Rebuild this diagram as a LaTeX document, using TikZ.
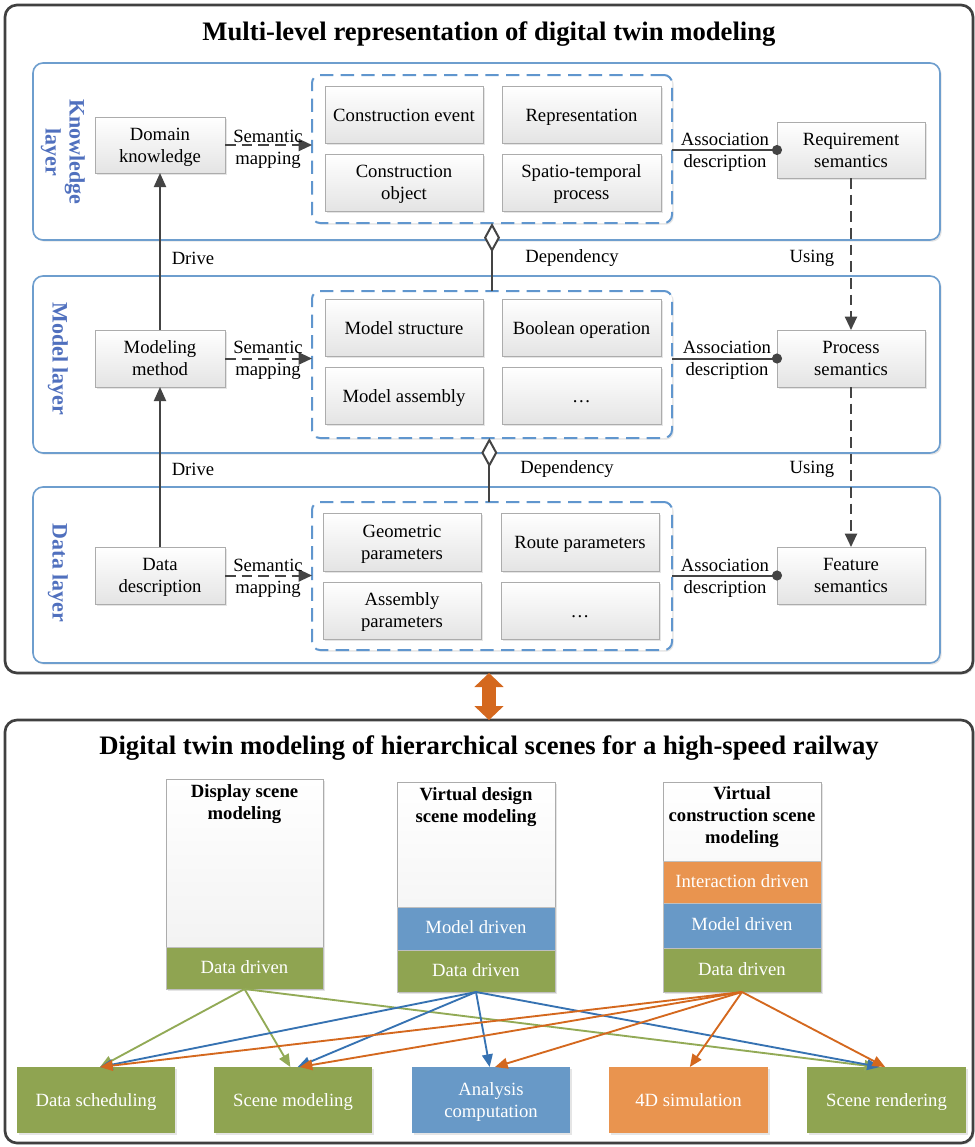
\documentclass[tikz,border=0pt]{standalone}
\usepackage{fontspec}
\setmainfont{Liberation Serif}
\usetikzlibrary{arrows.meta,shadows}

\definecolor{framegray}{RGB}{64,64,64}
\definecolor{linegray}{RGB}{68,68,68}
\definecolor{boxedge}{RGB}{172,172,172}
\definecolor{boxlow}{RGB}{228,228,228}
\definecolor{layeredge}{RGB}{110,158,206}
\definecolor{layertext}{RGB}{80,112,190}
\definecolor{groupedge}{RGB}{96,150,206}
\definecolor{greenfill}{RGB}{143,164,81}
\definecolor{bluefill}{RGB}{104,153,199}
\definecolor{orangefill}{RGB}{233,148,79}
\definecolor{greenline}{RGB}{146,170,86}
\definecolor{blueline}{RGB}{54,114,178}
\definecolor{orangeline}{RGB}{212,104,30}

\begin{document}
\begin{tikzpicture}[x=0.75pt,y=-0.75pt,
  every node/.style={font=\fontsize{14}{16.5}\selectfont, align=center},
  % place a rectangular node by its corners (x1,y1)-(x2,y2), given in pixels
  rectat/.style n args={4}{at={({(#1+#3)/2},{(#2+#4)/2})},
      minimum width={(#3-#1)*0.75pt}, minimum height={(#4-#2)*0.75pt}, inner sep=0pt, outer sep=0pt},
  % vertical placement of one- and two-line box texts
  oneline/.style={text height=12.8pt, text depth=3pt},
  twoline/.style={text height=28.5pt, text depth=3pt},
  softshadow/.style={drop shadow={shadow xshift=1.3pt, shadow yshift=-1.3pt, opacity=0.22, fill=black!45}},
  frame/.style={draw=framegray, line width=2pt, rounded corners=9pt, fill=white, softshadow},
  layerbox/.style={draw=layeredge, line width=1.2pt, rounded corners=7.5pt, fill=white, softshadow},
  groupbox/.style={draw=groupedge, line width=1.5pt, dash pattern=on 10pt off 5.5pt, rounded corners=6pt, fill=white, softshadow},
  gbox/.style={draw=boxedge, line width=0.7pt, top color=white, bottom color=boxlow, softshadow},
  layerlabel/.style={rotate=-90, text=layertext, font=\fontsize{16.5}{18}\selectfont\bfseries},
  titletext/.style={font=\fontsize{20}{24}\selectfont\bfseries},
  lbl/.style={inner sep=0pt},
  solidarrow/.style={draw=linegray, line width=1.5pt, -{Triangle[length=10.5pt,width=9pt]}},
  dasharrow/.style={draw=linegray, line width=1.5pt, dash pattern=on 8pt off 4.5pt, -{Triangle[length=10pt,width=9pt]}},
  assoc/.style={draw=linegray, line width=1.5pt, -{Circle[length=7.5pt]}, shorten >=-3.75pt},
  depend/.style={draw=linegray, line width=1.5pt, -{Diamond[open, length=22pt, width=12pt, fill=white]}},
  colbox/.style={draw=boxedge, line width=0.7pt, top color=white, bottom color=black!6, softshadow},
  coltitle/.style={font=\fontsize{14}{16.5}\selectfont\bfseries, inner sep=0pt},
  strip/.style={draw=white!75!black, line width=0.6pt, text=white, text height=10.5pt, text depth=3pt},
  target/.style={text=white, softshadow},
  gconn/.style={draw=greenline, line width=1.4pt, -{Triangle[length=9.5pt,width=8pt]}},
  bconn/.style={draw=blueline, line width=1.4pt, -{Triangle[length=9.5pt,width=8pt]}},
  oconn/.style={draw=orangeline, line width=1.4pt, -{Triangle[length=9.5pt,width=8pt]}}
]
\useasboundingbox (0,0) rectangle (975,1147);

% ---------- upper panel: multi-level representation ----------
\node[frame, rectat={5}{5}{973}{673}] (topframe) {};
\node[titletext] (title1) at (489,34) {Multi-level representation of digital twin modeling};

\node[layerbox, rectat={33}{63}{940}{240}] (klayer) {};
\node[layerbox, rectat={33}{276}{940}{453}] (mlayer) {};
\node[layerbox, rectat={33}{487}{940}{663}] (dlayer) {};

\node[layerlabel] (klabel) at (63,152) {Knowledge\\layer};
\node[layerlabel] (mlabel) at (58,359) {Model layer};
\node[layerlabel] (dlabel) at (58,573) {Data layer};

% left column
\node[gbox, twoline, rectat={95}{117}{225}{173}] (dk) {Domain\\knowledge};
\node[gbox, twoline, rectat={95}{330}{225}{387}] (mm) {Modeling\\method};
\node[gbox, twoline, rectat={95}{547}{225}{604}] (dd) {Data\\description};

% dashed groups
\node[groupbox, rectat={312}{75}{672}{223}] (kg) {};
\node[groupbox, rectat={312}{291}{672}{438}] (mg) {};
\node[groupbox, rectat={312}{502}{672}{650}] (dg) {};

\node[gbox, oneline, rectat={325}{86}{483}{143}] (ce) {Construction event};
\node[gbox, oneline, rectat={502}{86}{661}{143}] (rep) {Representation};
\node[gbox, twoline, rectat={325}{154}{483}{211}] (co) {Construction\\object};
\node[gbox, twoline, rectat={502}{154}{661}{211}] (stp) {Spatio-temporal\\process};

\node[gbox, oneline, rectat={325}{299}{483}{356}] (mst) {Model structure};
\node[gbox, oneline, rectat={502}{299}{661}{356}] (bo) {Boolean operation};
\node[gbox, oneline, rectat={325}{367}{483}{424}] (mas) {Model assembly};
\node[gbox, oneline, rectat={502}{367}{661}{424}] (mdots) {\ldots};

\node[gbox, twoline, rectat={323}{513}{481}{571}] (gp) {Geometric\\parameters};
\node[gbox, oneline, rectat={501}{513}{659}{571}] (rp) {Route parameters};
\node[gbox, twoline, rectat={323}{582}{481}{639}] (ap) {Assembly\\parameters};
\node[gbox, oneline, rectat={501}{582}{659}{639}] (ddots) {\ldots};

% right column
\node[gbox, twoline, rectat={777}{122}{925}{178}] (rs) {Requirement\\semantics};
\node[gbox, twoline, rectat={777}{330}{925}{387}] (ps) {Process\\semantics};
\node[gbox, twoline, rectat={777}{547}{925}{604}] (fs) {Feature\\semantics};

% semantic mapping
\draw[dasharrow] (dk.east) -- (dk.east -| kg.west);
\draw[dasharrow] (mm.east) -- (mm.east -| mg.west);
\draw[dasharrow] (dd.east) -- (dd.east -| dg.west);
\node[lbl] (sm1) at (268,149) {Semantic\\mapping};
\node[lbl] (sm2) at (268,360) {Semantic\\mapping};
\node[lbl] (sm3) at (268,578) {Semantic\\mapping};

% association description
\draw[assoc] (rs.west -| kg.east) -- (rs.west);
\draw[assoc] (ps.west -| mg.east) -- (ps.west);
\draw[assoc] (fs.west -| dg.east) -- (fs.west);
\node[lbl] (ad1) at (725,152) {Association\\description};
\node[lbl] (ad2) at (727,360) {Association\\description};
\node[lbl] (ad3) at (725,578) {Association\\description};

% drive
\draw[solidarrow] (mm.north) -- (dk.south);
\draw[solidarrow] (dd.north) -- (mm.south);
\node[lbl] (dr1) at (193,258) {Drive};
\node[lbl] (dr2) at (193,469) {Drive};

% dependency
\draw[depend] (mg.north) -- (kg.south);
\draw[depend] ([xshift=-2pt]dg.north) -- ([xshift=-2pt]mg.south);
\node[lbl] (dep1) at (572,258) {Dependency};
\node[lbl] (dep2) at (567,469) {Dependency};

% using
\draw[dasharrow] (rs.south) -- (ps.north);
\draw[dasharrow] (ps.south) -- (fs.north);
\node[lbl] (us1) at (812,258) {Using};
\node[lbl] (us2) at (812,469) {Using};

% ---------- lower panel: hierarchical scenes ----------
\node[frame, rectat={5}{720}{973}{1143}] (botframe) {};
\draw[orangeline, line width=10.5pt,
  {Triangle[length=10.5pt,width=22pt,line width=0pt]}-{Triangle[length=10.5pt,width=22pt,line width=0pt]}]
  (topframe.south) -- (botframe.north);
\node[titletext] (title2) at (489,748) {Digital twin modeling of hierarchical scenes for a high-speed railway};

% scene columns
\node[colbox, rectat={166}{779}{323}{989}] (c1) {};
\node[coltitle] (c1t) at (244.5,804) {Display scene\\modeling};
\node[strip, fill=greenfill, rectat={166}{947}{323}{989}] (c1d) {Data driven};

\node[colbox, rectat={397}{782}{555}{992}] (c2) {};
\node[coltitle] (c2t) at (476,807.5) {Virtual design\\scene modeling};
\node[strip, fill=bluefill, rectat={397}{907}{555}{950}] (c2m) {Model driven};
\node[strip, fill=greenfill, rectat={397}{950}{555}{992}] (c2d) {Data driven};

\node[colbox, rectat={663}{782}{821}{992}] (c3) {};
\node[coltitle] (c3t) at (742,817) {Virtual\\construction scene\\modeling};
\node[strip, fill=orangefill, rectat={663}{861}{821}{903}] (c3i) {Interaction driven};
\node[strip, fill=bluefill, rectat={663}{903}{821}{948}] (c3m) {Model driven};
\node[strip, fill=greenfill, rectat={663}{948}{821}{992}] (c3d) {Data driven};

% functional targets
\node[target, oneline, fill=greenfill, rectat={17}{1067}{175}{1133}] (ds) {Data scheduling};
\node[target, oneline, fill=greenfill, rectat={214}{1067}{372}{1133}] (smo) {Scene modeling};
\node[target, twoline, fill=bluefill, rectat={412}{1067}{570}{1133}] (ac) {Analysis\\computation};
\node[target, oneline, fill=orangefill, rectat={609}{1067}{768}{1133}] (sim) {4D simulation};
\node[target, oneline, fill=greenfill, rectat={807}{1067}{966}{1133}] (sr) {Scene rendering};

% data-driven links
\draw[gconn] (c1d.south) -- ([xshift=3pt]ds.north);
\draw[gconn] (c1d.south) -- ([xshift=-2pt]smo.north);
\draw[gconn] (c1d.south) -- ([xshift=-7pt]sr.north);

% model-driven links
\draw[bconn] (c2d.south) -- ([xshift=3pt]ds.north);
\draw[bconn] (c2d.south) -- ([xshift=3.5pt]smo.north);
\draw[bconn] (c2d.south) -- ([xshift=-1pt]ac.north);
\draw[bconn] (c2d.south) -- ([xshift=-5pt]sr.north);

% interaction-driven links
\draw[oconn] (c3d.south) -- ([xshift=3pt]ds.north);
\draw[oconn] (c3d.south) -- ([xshift=5pt]smo.north);
\draw[oconn] (c3d.south) -- ([xshift=3pt]ac.north);
\draw[oconn] (c3d.south) -- ([xshift=1pt]sim.north);
\draw[oconn] (c3d.south) -- ([xshift=-1pt]sr.north);
\end{tikzpicture}
\end{document}
